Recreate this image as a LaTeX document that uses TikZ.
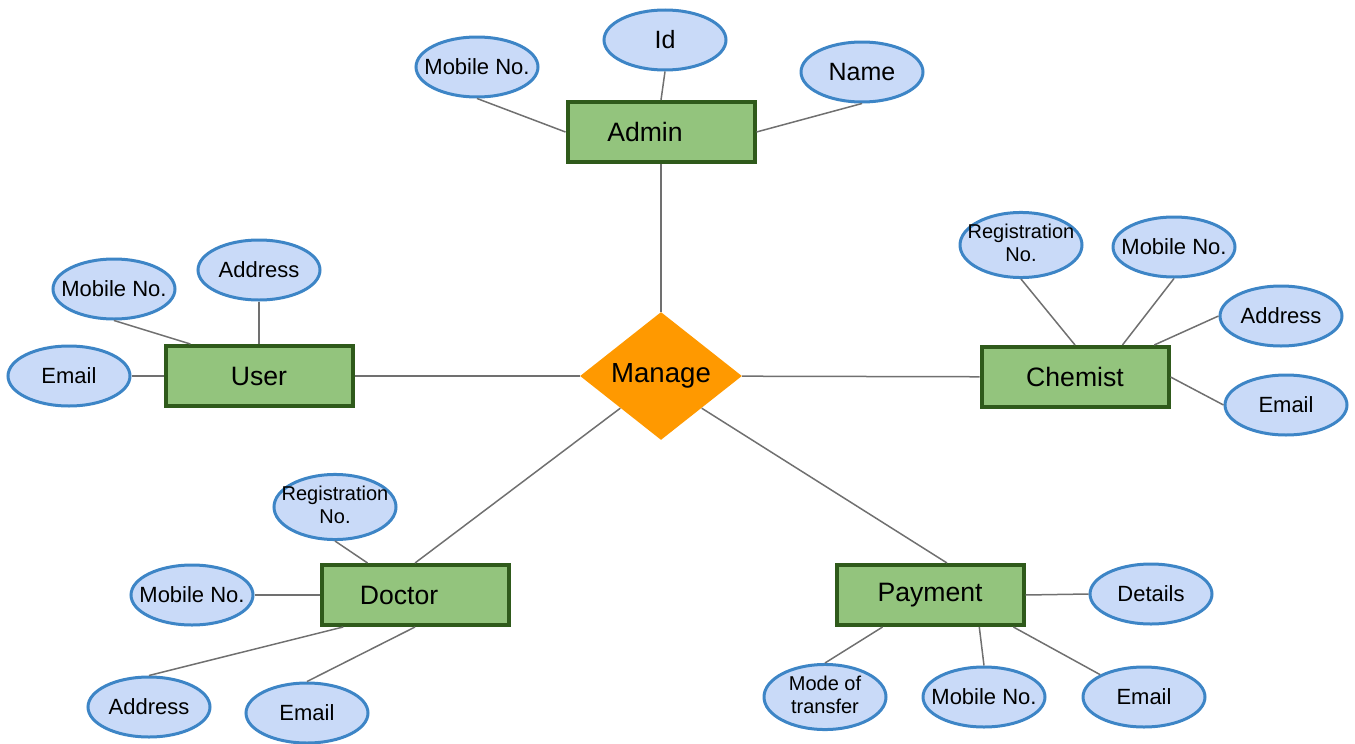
\documentclass[tikz,border=0pt]{standalone}
\usepackage{fontspec}
\setmainfont{Liberation Sans}
\usetikzlibrary{shapes.geometric}
\definecolor{entityfill}{HTML}{93C47D}
\definecolor{entityline}{HTML}{2F5A1B}
\definecolor{attrfill}{HTML}{C9DAF8}
\definecolor{attrline}{HTML}{3D85C6}
\definecolor{relfill}{HTML}{FF9900}
\definecolor{linkgray}{HTML}{707070}
% text that does not widen its ellipse
\newcommand{\attrtxt}[1]{\makebox[0pt]{#1}}
\newcommand{\twolines}[2]{\makebox[0pt]{\begin{tabular}{@{}c@{}}#1\\#2\end{tabular}}}

\begin{document}
\begin{tikzpicture}[x=0.5pt, y=-0.5pt,
    entity/.style={draw=entityline, fill=entityfill, line width=2pt, minimum width=93.5pt, minimum height=30pt, inner sep=0pt, font=\fontsize{13.3}{15}\selectfont},
    entityleft/.style={entity, execute at begin node={\hspace*{-16pt}}},
    attr/.style={ellipse, draw=attrline, fill=attrfill, line width=1.5pt, minimum width=61pt, minimum height=30pt, inner sep=0pt, font=\fontsize{11}{13}\selectfont},
    attrsmall/.style={attr, font=\fontsize{10}{11.5}\selectfont},
    attrbig/.style={attr, font=\fontsize{12.5}{15}\selectfont},
    rel/.style={diamond, aspect=1.27, fill=relfill, minimum width=81pt, minimum height=64pt, inner sep=0pt, font=\fontsize{13.8}{16}\selectfont},
    link/.style={draw=linkgray, line width=0.75pt}]
    \useasboundingbox (0,0) rectangle (1355,744);

    % relationship and entities
    \node[rel] (manage) at (661,376) {Manage};
    \node[entityleft] (admin) at (661,132) {Admin};
    \node[entity] (user) at (259,376) {User};
    \node[entity] (chemist) at (1075,377) {Chemist};
    \node[entityleft] (doctor) at (415,595) {Doctor};
    \node[entity] (payment) at (930,595) {Payment};

    % admin attributes
    \node[attr] (adminmob) at (477,67) {\attrtxt{Mobile No.}};
    \node[attrbig] (adminid) at (665,40) {\attrtxt{Id}};
    \node[attrbig] (adminname) at (862,72) {\attrtxt{Name}};

    % user attributes
    \node[attr] (useraddr) at (259,270) {\attrtxt{Address}};
    \node[attr] (usermob) at (114,289) {\attrtxt{Mobile No.}};
    \node[attr] (useremail) at (69,376) {\attrtxt{Email}};

    % chemist attributes
    \node[attrsmall] (chemreg) at (1021,245) {\twolines{Registration}{No.}};
    \node[attr] (chemmob) at (1174,247) {\attrtxt{Mobile No.}};
    \node[attr] (chemaddr) at (1281,316) {\attrtxt{Address}};
    \node[attr] (chememail) at (1286,405) {\attrtxt{Email}};

    % doctor attributes
    \node[attrsmall] (docreg) at (335,507) {\twolines{Registration}{No.}};
    \node[attr] (docmob) at (192,595) {\attrtxt{Mobile No.}};
    \node[attr] (docaddr) at (149,707) {\attrtxt{Address}};
    \node[attr] (docemail) at (307,713) {\attrtxt{Email}};

    % payment attributes
    \node[attr] (paydetails) at (1151,594) {\attrtxt{Details}};
    \node[attrsmall] (paymode) at (825,697) {\twolines{Mode of}{transfer}};
    \node[attr] (paymob) at (984,697) {\attrtxt{Mobile No.}};
    \node[attr] (payemail) at (1144,697) {\attrtxt{Email}};

    % links to the relationship
    \draw[link] (admin) -- (manage);
    \draw[link] (user) -- (manage);
    \draw[link] (manage) -- (chemist);
    \draw[link] (manage.south west) -- (doctor.north);
    \draw[link] (manage.south east) -- (payment.62);

    % links to attributes
    \draw[link] (adminmob.south) -- (admin.west);
    \draw[link] (adminid.south) -- (admin.north);
    \draw[link] (adminname.south) -- (admin.east);
    \draw[link] (useraddr.south) -- (user.north);
    \draw[link] (usermob.south) -- (user.155);
    \draw[link] (useremail.east) -- (user.west);
    \draw[link] (chemreg.south) -- (chemist.north);
    \draw[link] (chemmob.south) -- (chemist.34);
    \draw[link] (chemaddr.west) -- (chemist.22);
    \draw[link] (chememail.west) -- (chemist.east);
    \draw[link] (docreg.south) -- (doctor.146);
    \draw[link] (docmob.east) -- (doctor.west);
    \draw[link] (docaddr.north) -- (doctor.204);
    \draw[link] (docemail.north) -- (doctor.south);
    \draw[link] (paydetails.west) -- (payment.east);
    \draw[link] (paymode.north) -- (payment.214);
    \draw[link] (paymob.north) -- (payment.-33);
    \draw[link] (payemail.153) -- (payment.-21);
\end{tikzpicture}
\end{document}
